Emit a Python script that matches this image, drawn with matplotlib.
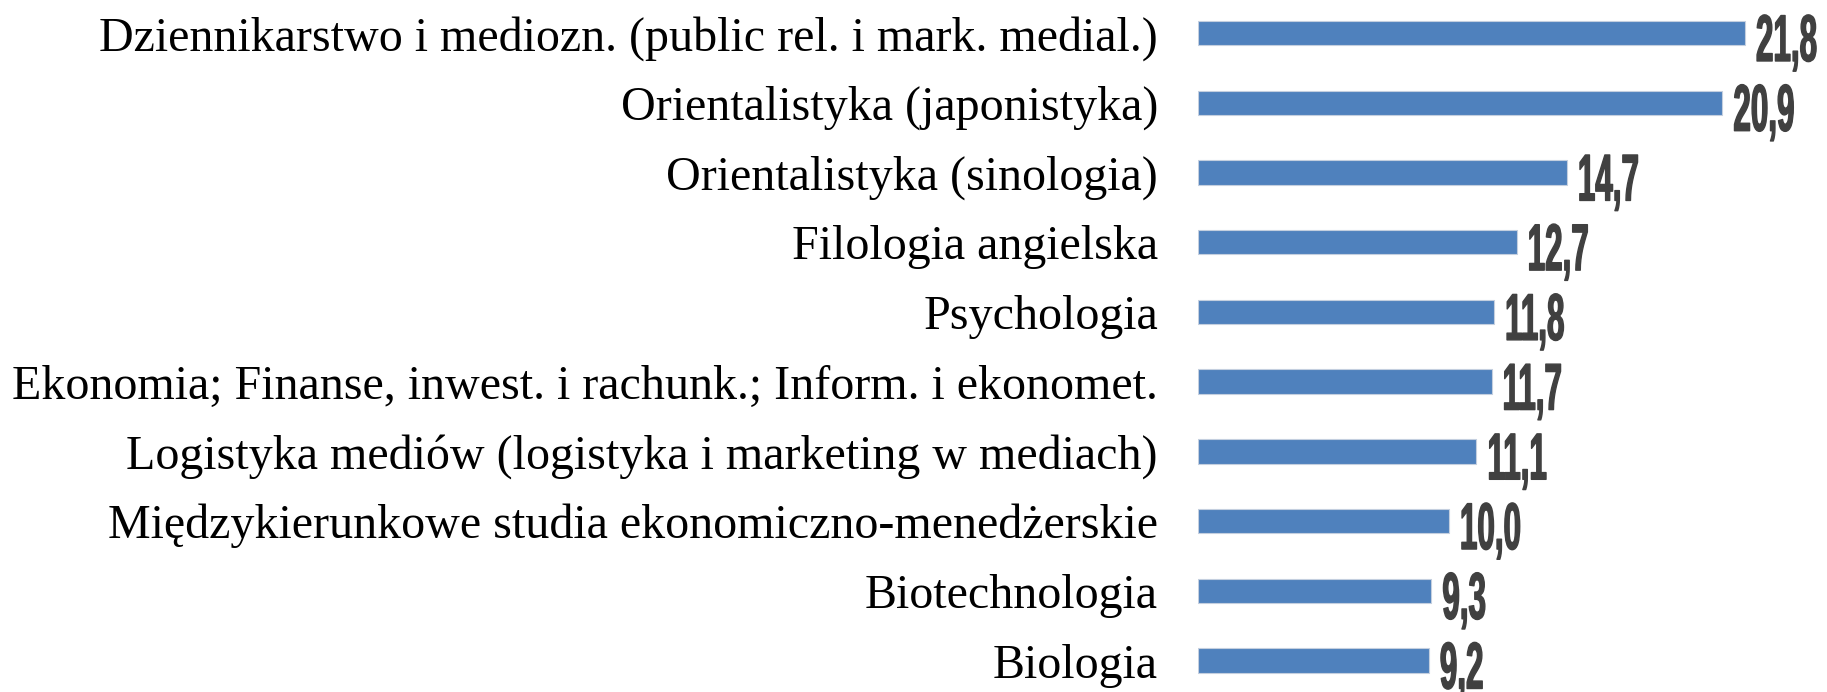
import matplotlib.pyplot as plt
from matplotlib import patheffects
from matplotlib.transforms import Affine2D

# Data (top to bottom)
categories = [
    "Dziennikarstwo i mediozn. (public rel. i mark. medial.)",
    "Orientalistyka (japonistyka)",
    "Orientalistyka (sinologia)",
    "Filologia angielska",
    "Psychologia",
    "Ekonomia; Finanse, inwest. i rachunk.; Inform. i ekonomet.",
    "Logistyka mediów (logistyka i marketing w mediach)",
    "Międzykierunkowe studia ekonomiczno-menedżerskie",
    "Biotechnologia",
    "Biologia",
]
values = [21.8, 20.9, 14.7, 12.7, 11.8, 11.7, 11.1, 10.0, 9.3, 9.2]

bar_color = "#4F81BD"
value_color = "#404040"


class Stretch(patheffects.AbstractPathEffect):
    """Draw text taller than its font size (scale about the baseline start), lightly stroked."""

    def __init__(self, sx, sy, lw=1.0):
        super().__init__()
        self.sx = sx
        self.sy = sy
        self.lw = lw

    def draw_path(self, renderer, gc, tpath, affine, rgbFace=None):
        m = affine.get_matrix()
        tx, ty = m[0, 2], m[1, 2]
        aff = affine + Affine2D().translate(-tx, -ty).scale(self.sx, self.sy).translate(tx, ty)
        gc0 = renderer.new_gc()
        gc0.copy_properties(gc)
        gc0.set_linewidth(self.lw)
        if rgbFace is not None:
            gc0.set_foreground(rgbFace)
        renderer.draw_path(gc0, tpath, aff, rgbFace)
        gc0.restore()


fig = plt.figure(figsize=(18.27, 6.92), dpi=100)
ax = fig.add_axes([1198 / 1827, 0, 1 - 1198 / 1827, 1])

y = list(range(len(categories)))
bars = ax.barh(y, values, height=0.35, color=bar_color, edgecolor="#C4CFDF", linewidth=0.8)

# pixel geometry: first bar centre at 33px, last at 660px
step = (660.5 - 33) / 9
ax.set_ylim(9 + (692 - 660.5) / step, -33 / step)
ax.set_xlim(0, (1827 - 1198) / 25.09)

ax.set_yticks(y)
ax.set_yticklabels(categories, family=["Liberation Serif", "DejaVu Serif"], fontsize=34.6)
ax.tick_params(axis="y", length=0, pad=28.8)
ax.set_xticks([])
for s in ax.spines.values():
    s.set_visible(False)

for i, v in enumerate(values):
    ax.annotate(f"{v:.1f}".replace(".", ","), xy=(v, i), xytext=(11, -28),
                textcoords="offset pixels", ha="left", va="baseline",
                color=value_color, fontsize=23.8, fontweight="bold",
                family=["Liberation Sans", "DejaVu Sans"],
                path_effects=[Stretch(0.95, 2.0)])

fig.savefig("out.png", dpi=100)
